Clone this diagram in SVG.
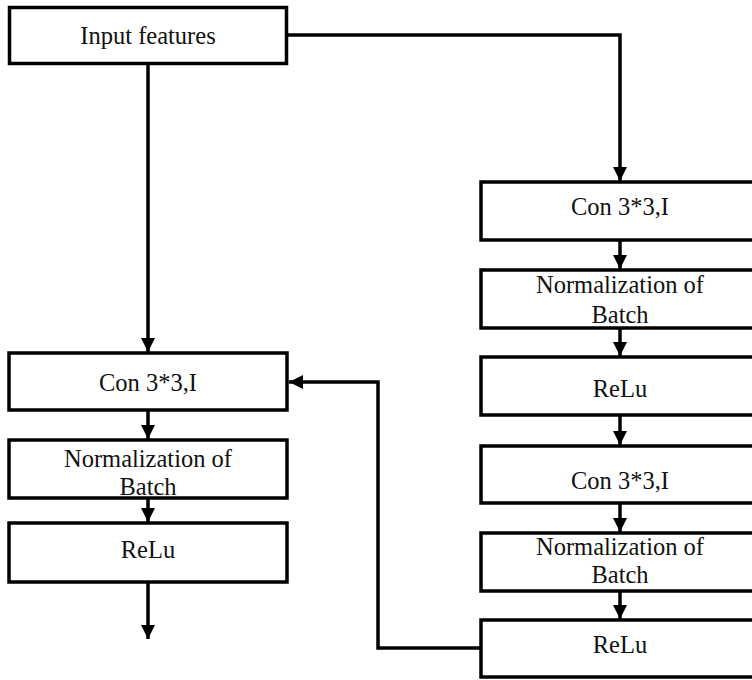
<svg xmlns="http://www.w3.org/2000/svg" width="752" height="680" viewBox="0 0 752 680">
  <style>
    .box { fill: #fff; stroke: #000; stroke-width: 3.5; }
    .wire { fill: none; stroke: #000; stroke-width: 3.5; }
  </style>
  <defs>
    <marker id="head" viewBox="0 0 14 14" refX="14" refY="7" markerWidth="14" markerHeight="14" markerUnits="userSpaceOnUse" orient="auto">
      <path d="M0,0 L14,7 L0,14 Z" fill="#000"/>
    </marker>
  </defs>

  <!-- connectors -->
  <g id="connectors">
    <path class="wire" d="M148,64 V352" marker-end="url(#head)"/>
    <path class="wire" d="M287,35 H620 V181" marker-end="url(#head)"/>
    <path class="wire" d="M148,411 V439" marker-end="url(#head)"/>
    <path class="wire" d="M148,499 V522" marker-end="url(#head)"/>
    <path class="wire" d="M148,583 V639" marker-end="url(#head)"/>
    <path class="wire" d="M620,241 V269" marker-end="url(#head)"/>
    <path class="wire" d="M620,329 V356" marker-end="url(#head)"/>
    <path class="wire" d="M620,416 V445" marker-end="url(#head)"/>
    <path class="wire" d="M620,504 V532" marker-end="url(#head)"/>
    <path class="wire" d="M620,592 V619" marker-end="url(#head)"/>
    <path class="wire" d="M481,648 H378 V382 H289" marker-end="url(#head)"/>
  </g>

  <g font-family="'Liberation Serif', 'Times New Roman', 'DejaVu Serif', serif" font-size="24.5" fill="#111" text-anchor="middle">
    <!-- input -->
    <g id="input">
      <rect class="box" x="9.5" y="7.5" width="277" height="56"/>
      <text x="148" y="44">Input features</text>
    </g>

    <!-- left branch -->
    <g id="left-conv">
      <rect class="box" x="9" y="353" width="278" height="57"/>
      <text x="148" y="391">Con 3*3,I</text>
    </g>
    <g id="left-bn">
      <rect class="box" x="9" y="440" width="278" height="58"/>
      <text x="148" y="467">Normalization of</text>
      <text x="148" y="495">Batch</text>
    </g>
    <g id="left-relu">
      <rect class="box" x="9" y="523" width="278" height="59"/>
      <text x="148" y="558">ReLu</text>
    </g>

    <!-- right branch -->
    <g id="right-conv1">
      <rect class="box" x="481" y="182" width="279" height="58"/>
      <text x="620" y="215">Con 3*3,I</text>
    </g>
    <g id="right-bn1">
      <rect class="box" x="481" y="270" width="279" height="58"/>
      <text x="620" y="293">Normalization of</text>
      <text x="620" y="323">Batch</text>
    </g>
    <g id="right-relu1">
      <rect class="box" x="481" y="357" width="279" height="58"/>
      <text x="620" y="397">ReLu</text>
    </g>
    <g id="right-conv2">
      <rect class="box" x="481" y="446" width="279" height="57"/>
      <text x="620" y="489">Con 3*3,I</text>
    </g>
    <g id="right-bn2">
      <rect class="box" x="481" y="533" width="279" height="58"/>
      <text x="620" y="555">Normalization of</text>
      <text x="620" y="583">Batch</text>
    </g>
    <g id="right-relu2">
      <rect class="box" x="481" y="620" width="279" height="57"/>
      <text x="620" y="653">ReLu</text>
    </g>
  </g>
</svg>
